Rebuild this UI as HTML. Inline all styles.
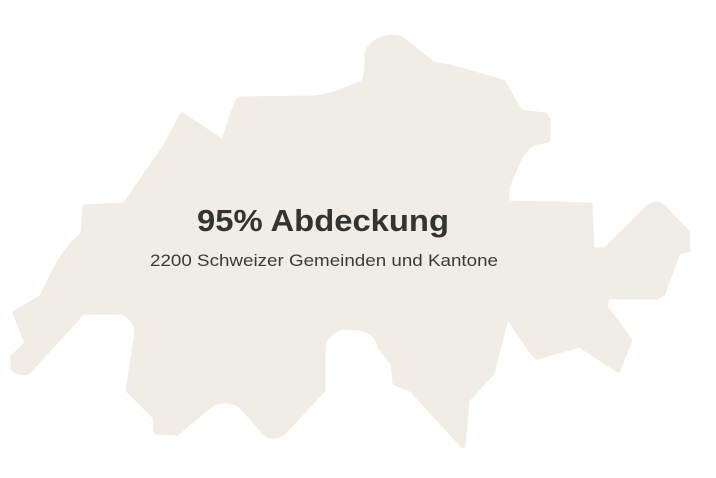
<!DOCTYPE html>
<html><head><meta charset="utf-8"><style>
html,body{margin:0;padding:0;background:#fff;width:716px;height:478px;overflow:hidden}
svg{display:block}
</style></head><body>
<svg width="716" height="478" viewBox="0 0 716 478">
<path fill="#efede5" stroke="#efede5" stroke-width="5" stroke-linejoin="round"
d="M240,99 L313,98 Q330,96 340,92 L363,83 Q368,75 367,53 Q372,40 390,37 L400,38 L433,64 L450,67 L503,82 L520,112 L545,115 L548,120 L548,140 L533,143 Q524,150 520,157 L507,187 L507,203 L590,205 L592,250 L605,250 L650,206 Q658,202 663,207 L687,232 L688,250 L678,252 L663,293 L657,297 L607,297 L605,307 L630,340 L618,370 L580,345 L537,357 L532,352 L507,315 L492,373 L467,400 L463,446 L412,390 L395,383 L393,363 L380,347 Q378,332 360,328 L343,327 Q325,332 323,347 L323,390 L283,433 Q275,438 267,435 L240,405 Q227,398 213,403 L177,433 L156,432 L155,417 L128,390 L137,333 Q136,318 122,312 L83,312 L28,372 Q18,374 13,368 L13,357 L27,343 L15,313 L42,297 L55,270 Q65,250 83,234 L85,207 L125,205 L147,173 L165,147 L182,115 L223,142 L237,102 Z"/>
<text x="323" y="231" text-anchor="middle" font-family="Liberation Sans, sans-serif" font-weight="bold" font-size="31" fill="#333431" textLength="252" lengthAdjust="spacingAndGlyphs">95% Abdeckung</text>
<text x="324" y="266" text-anchor="middle" font-family="Liberation Sans, sans-serif" font-size="16.5" fill="#3a3b38" textLength="348" lengthAdjust="spacingAndGlyphs">2200 Schweizer Gemeinden und Kantone</text>
</svg>
</body></html>
